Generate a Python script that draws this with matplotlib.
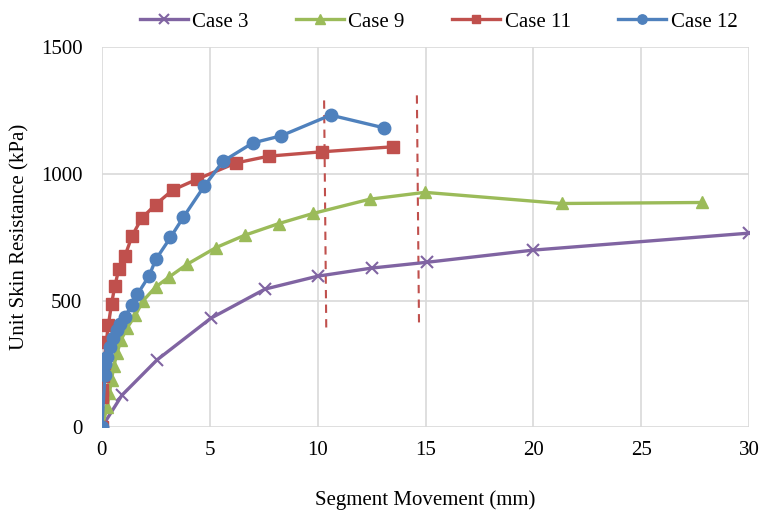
import matplotlib.pyplot as plt

plt.rcParams['font.family'] = ['Liberation Serif', 'DejaVu Serif']

# Data
x3 = [0, 0.93, 2.55, 5.05, 7.56, 10.0, 12.5, 15.07, 20.0, 30.0]
y3 = [0, 126, 265, 430, 545, 596, 628, 651, 699, 766]

x9 = [0, 0.25, 0.35, 0.45, 0.55, 0.7, 0.88, 1.17, 1.55, 1.91, 2.5, 3.12,
      3.95, 5.29, 6.63, 8.21, 9.8, 12.42, 14.97, 21.31, 27.83]
y9 = [0, 80, 135, 188, 240, 292, 343, 392, 442, 499, 554, 593,
      643, 709, 758, 804, 844, 900, 927, 883, 887]

x11 = [0, 0.0, 0.02, 0.05, 0.1, 0.2, 0.3, 0.45, 0.6, 0.79, 1.07, 1.4,
       1.84, 2.49, 3.28, 4.39, 6.21, 7.74, 10.18, 13.5]
y11 = [0, 120, 148, 200, 255, 335, 403, 488, 557, 626, 676, 755,
       824, 879, 936, 978, 1043, 1070, 1087, 1107]

x12 = [0, 0.14, 0.14, 0.22, 0.37, 0.52, 0.68, 0.83, 1.07, 1.38, 1.65,
       2.18, 2.5, 3.18, 3.77, 4.74, 5.62, 6.99, 8.3, 10.6, 13.06]
y12 = [0, 205, 251, 278, 317, 350, 383, 409, 435, 482, 525,
       596, 662, 749, 828, 951, 1050, 1122, 1150, 1232, 1182]

# Dashed reference lines
dash_x_top = [10.3, 14.6]
dash_x_bot = [10.4, 14.7]
dash_top = [1290, 1310]
dash_bot = [385, 395]

fig = plt.figure(figsize=(7.66, 5.19), dpi=100)
ax = fig.add_axes([0.133, 0.177, 0.845, 0.732])

ax.plot(x3, y3, color='#8064A2', lw=2.4, marker='x', ms=9, mew=1.5, label='Case 3', zorder=3)
ax.plot(x9, y9, color='#9BBB59', lw=2.4, marker='^', ms=9, label='Case 9', zorder=3)
ax.plot(x11, y11, color='#C0504D', lw=2.4, marker='s', ms=8, label='Case 11', zorder=4)
ax.plot(x12, y12, color='#4F81BD', lw=2.4, marker='o', ms=9, label='Case 12', zorder=5)

for xt, xb, yt, yb in zip(dash_x_top, dash_x_bot, dash_top, dash_bot):
    ax.plot([xt, xb], [yt, yb], color='#C0504D', lw=1.5, ls=(0, (4, 3)), zorder=2)

ax.set_xlim(0, 30)
ax.set_ylim(0, 1500)
ax.set_xticks(range(0, 31, 5))
ax.set_yticks([0, 500, 1000, 1500])
ax.grid(True, color='#D9D9D9', lw=1.2)
ax.set_axisbelow(True)
for s in ax.spines.values():
    s.set_visible(False)
ax.tick_params(length=0, labelsize=15, pad=10)
ax.tick_params(axis='y', pad=14)

ax.set_xlabel('Segment Movement (mm)', fontsize=15, labelpad=22)
ax.set_ylabel('Unit Skin Resistance (kPa)', fontsize=15, labelpad=8)

ax.legend(loc='lower center', bbox_to_anchor=(0.52, 1.0), ncol=4, frameon=False,
          fontsize=15, handlelength=2.3, handletextpad=0.2, columnspacing=2.3,
          markerscale=0.75, borderaxespad=0.35)

fig.savefig('out.png', dpi=100)
